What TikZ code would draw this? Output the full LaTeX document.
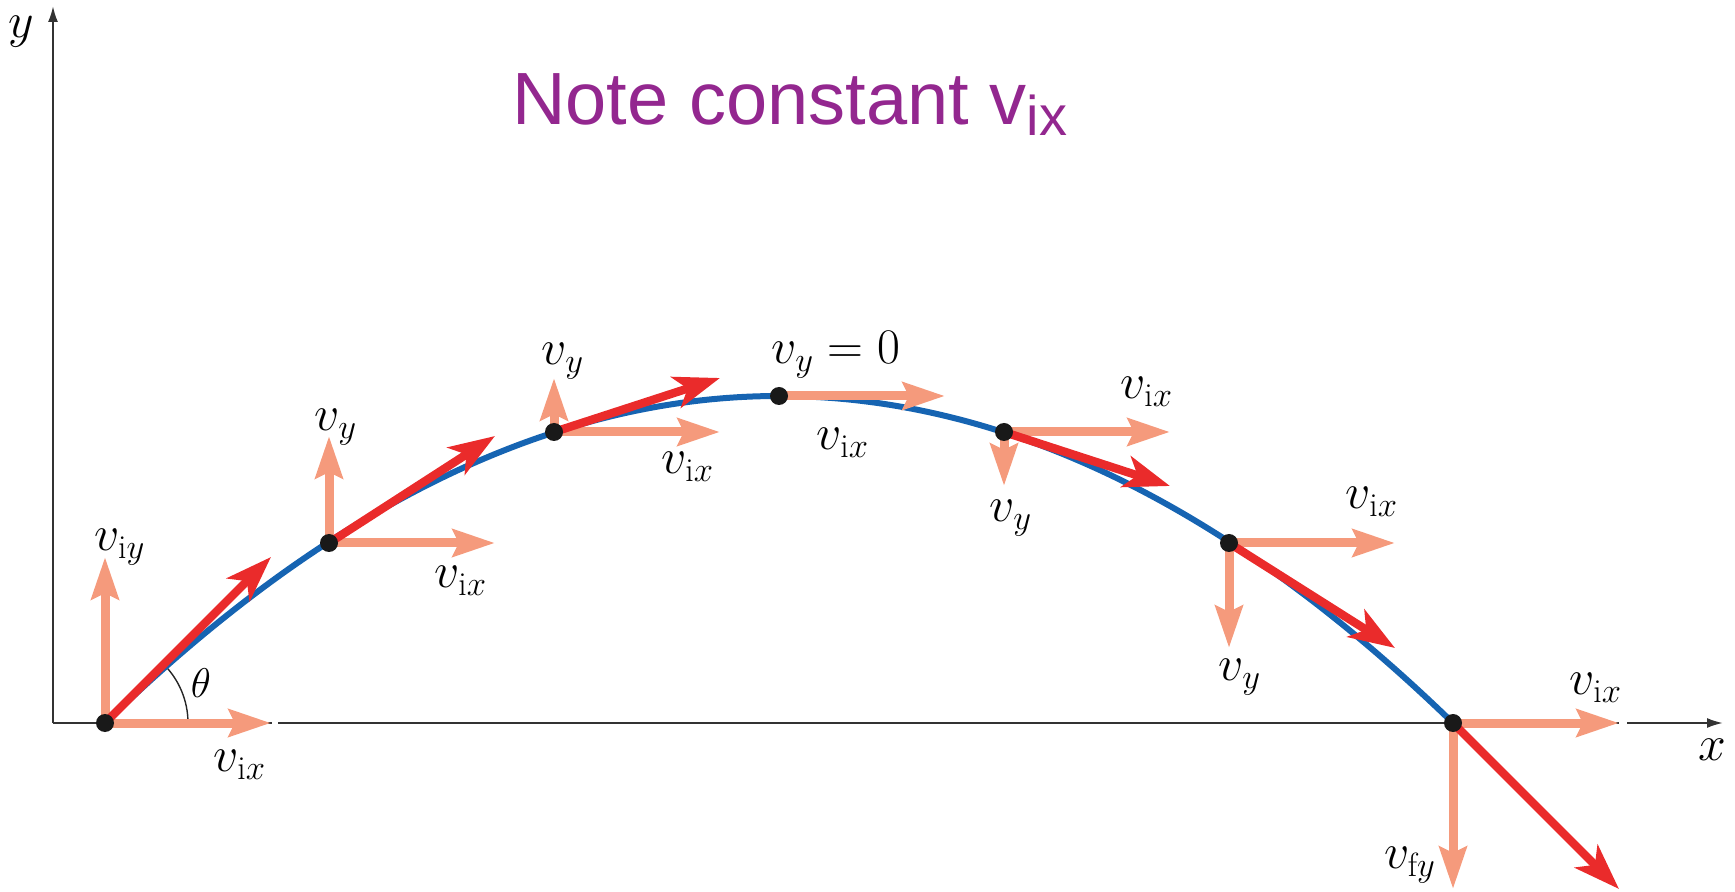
\documentclass[tikz,border=0pt]{standalone}
\usepackage{fontspec}
\newfontfamily\titlefont{Liberation Sans}
\usetikzlibrary{arrows.meta}
\definecolor{traj}{RGB}{22,100,178}
\definecolor{vred}{RGB}{234,43,43}
\definecolor{vorange}{RGB}{245,154,124}
\definecolor{ttl}{RGB}{147,39,143}
\begin{document}
\begin{tikzpicture}[x=0.5pt,y=-0.5pt,
  lbl/.style={font=\fontsize{24}{28}\selectfont, inner sep=0pt},
  comp/.style={vorange, line width=4.5pt, -{Stealth[length=21pt,width=13.5pt,inset=3pt]}},
  res/.style={vred, line width=4.2pt, -{Stealth[length=23pt,width=16pt,inset=6pt]}},
  dot/.style={circle, fill=black!90, minimum size=9pt, inner sep=0pt},
  axisline/.style={line width=1pt, black!80}]
\useasboundingbox (0,0) rectangle (1735,892);
% points
\coordinate (p0) at (105,723);
\coordinate (p1) at (329,543);
\coordinate (p2) at (554,432);
\coordinate (p3) at (779,396);
\coordinate (p4) at (1004,432);
\coordinate (p5) at (1229,543);
\coordinate (p6) at (1453,723);
% axes
\coordinate (org) at (53,723);
\coordinate (ytop) at (53,6);
\coordinate (xg1) at (272,723);
\coordinate (xg2) at (278,723);
\coordinate (xg3) at (1619,723);
\coordinate (xg4) at (1627,723);
\coordinate (xend) at (1723,723);
\draw[axisline, -{Latex[length=8pt,width=5pt]}] (org) -- (ytop);
\draw[axisline] (org) -- (xg1);
\draw[axisline] (xg2) -- (xg3);
\draw[axisline, -{Latex[length=8pt,width=5pt]}] (xg4) -- (xend);
% angle arc
\draw[line width=0.7pt, black!85] (p0) ++(83,0) arc[start angle=0, end angle=-45, radius=83];
% trajectory
\draw[traj, line width=3pt] (p0) .. controls (554.33,287) and (1003.67,287) .. (p6);
% components
\coordinate (h0) at (271,723); \coordinate (v0) at (105,557);
\coordinate (h1) at (495,543); \coordinate (v1) at (329,436);
\coordinate (h2) at (720,432); \coordinate (v2) at (554,378);
\coordinate (h3) at (945,396);
\coordinate (h4) at (1170,432); \coordinate (v4) at (1004,486);
\coordinate (h5) at (1395,543); \coordinate (v5) at (1229,648);
\coordinate (h6) at (1619,723); \coordinate (v6) at (1453,889);
\coordinate (r0) at (271,557);
\coordinate (r1) at (495,436);
\coordinate (r2) at (720,378);
\coordinate (r4) at (1170,486);
\coordinate (r5) at (1395,648);
\coordinate (r6) at (1619,889);
\foreach \i in {0,1,2,3,4,5,6} {\draw[comp] (p\i) -- (h\i);}
\foreach \i in {0,1,2,4,5,6} {\draw[comp] (p\i) -- (v\i);}
\foreach \i in {0,1,2,4,5,6} {\draw[res] (p\i) -- (r\i);}
% dots
\foreach \i in {0,...,6} {\node[dot] (d\i) at (p\i) {};}
% labels
\node[lbl] (l0y) at (120,547) {$v_{\mathrm{i}y}$};
\node[lbl] (l0x) at (240,765) {$v_{\mathrm{i}x}$};
\node[lbl, font=\fontsize{21}{24}\selectfont] (lth) at (201,683) {$\theta$};
\node[lbl] (l1y) at (336,427) {$v_y$};
\node[lbl] (l1x) at (461,581) {$v_{\mathrm{i}x}$};
\node[lbl] (l2y) at (563,361) {$v_y$};
\node[lbl] (l2x) at (688,467) {$v_{\mathrm{i}x}$};
\node[lbl] (l3y) at (836,355) {$v_y = 0$};
\node[lbl] (l3x) at (843,443) {$v_{\mathrm{i}x}$};
\node[lbl] (l4x) at (1147,392) {$v_{\mathrm{i}x}$};
\node[lbl] (l4y) at (1011,518) {$v_y$};
\node[lbl] (l5x) at (1372,502) {$v_{\mathrm{i}x}$};
\node[lbl] (l5y) at (1240,677) {$v_y$};
\node[lbl] (l6x) at (1596,688) {$v_{\mathrm{i}x}$};
\node[lbl] (l6y) at (1410,865) {$v_{\mathrm{f}y}$};
\node[lbl] (lx) at (1712,750) {$x$};
\node[lbl] (ly) at (21,32) {$y$};
\node[anchor=base west, inner sep=0pt, text=ttl, font=\titlefont\fontsize{37}{44}\selectfont] (title) at (512,125) {Note constant v\raisebox{-0.14em}{\fontsize{28}{30}\selectfont ix}};
\end{tikzpicture}
\end{document}
